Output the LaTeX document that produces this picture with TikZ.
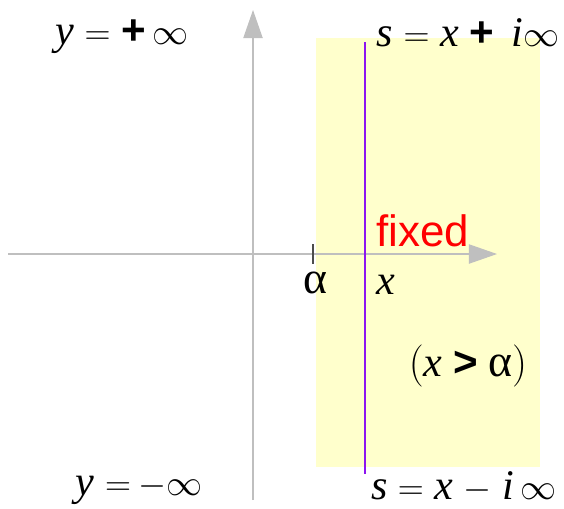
\documentclass[tikz,border=0pt]{standalone}
\usepackage{fix-cm}
\usepackage{fontspec}
\setmainfont{Liberation Serif}
\newfontfamily\sansfont{Liberation Sans}
\usetikzlibrary{arrows.meta}
\definecolor{stripyellow}{RGB}{255,255,204}
\definecolor{linepurple}{RGB}{140,20,240}
\tikzset{
    axis/.style={gray!50, line width=0.6pt, -{Triangle[length=16pt,width=11pt]}},
    bigtext/.style={font=\fontsize{24}{28}\selectfont, inner sep=0pt},
}
\newcommand{\bigop}[1]{{\sansfont\bfseries #1}}
\newcommand{\mop}[1]{{\fontsize{20.5}{22}\selectfont$#1$}}
\newcommand{\galpha}{{\fontsize{26}{28}\selectfont α}}
\begin{document}
\begin{tikzpicture}[x=0.02cm,y=-0.02cm]
            % Define dimensions
            \def\stripleft{316}
            \def\stripright{540}
            \def\linex{365}
            \useasboundingbox (0,0) rectangle (564,508);
            % Draw the strip
            \fill[stripyellow] (\stripleft,38) rectangle (\stripright,467);
            % Axes
            \coordinate (xstart) at (8,254);
            \coordinate (xend) at (497,254);
            \coordinate (ystart) at (253,500);
            \coordinate (yend) at (253,10);
            \draw[axis] (xstart) -- (xend);
            \draw[axis] (ystart) -- (yend);
            % Vertical line through x
            \coordinate (top) at (\linex,42);
            \coordinate (bottom) at (\linex,474);
            \draw[linepurple, line width=1pt] (top) -- (bottom);
            % Tick at alpha
            \coordinate (ticktop) at (313,244);
            \coordinate (tickbottom) at (313,264);
            \draw[black!70, line width=0.8pt] (ticktop) -- (tickbottom);
            % Labels
            \node[bigtext] (alpha) at (315,283) {\galpha};
            \node[bigtext] (xlabel) at (386,285) {\textit{x}};
            \node[bigtext, text=red, font=\sansfont\fontsize{25}{30}\selectfont] (fixed) at (423,231) {fixed};
            \node[bigtext] (cond) at (468,366) {$\bigl($\textit{x} \bigop{>} \galpha$\bigr)$};
            \node[bigtext] (yplus) at (122,37) {\textit{y} \mop{=} \bigop{+}\,\mop{\infty}};
            \node[bigtext] (yminus) at (139,490) {\textit{y} \mop{=}\,\mop{-\infty}};
            \node[bigtext] (splus) at (468,33) {\textit{s} \mop{=} \textit{x} \bigop{+}\, \textit{i}\mop{\infty}};
            \node[bigtext] (sminus) at (464,487) {\textit{s} \mop{=} \textit{x} \mop{-} \textit{i}\,\mop{\infty}};
        \end{tikzpicture}
\end{document}
